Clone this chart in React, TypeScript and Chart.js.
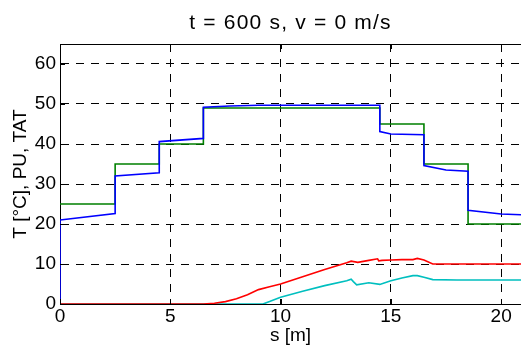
import React, { useEffect, useRef } from "react";
import { Chart, registerables } from "chart.js";

Chart.register(...registerables);

const TITLE = "t = 600 s, v = 0 m/s";
const X_LABEL = "s [m]";
const Y_LABEL = "T [°C], PU, TAT";
const X_TICKS = [0, 5, 10, 15, 20];
const Y_TICKS = [0, 10, 20, 30, 40, 50, 60];

// T (blue)
const tX = [0, 0, 2.5, 2.5, 4.5, 4.5, 6.5, 6.5, 7.7, 9, 14.5, 14.5, 15, 16.5, 16.5, 17.5, 18.5, 18.5, 20, 21];
const tY = [0, 21, 22.6, 32, 32.8, 40.6, 41.4, 49.2, 49.5, 49.7, 49.7, 43.1, 42.5, 42.3, 34.6, 33.5, 33.2, 23.4, 22.5, 22.3];

// TAT (green)
const tatX = [0, 2.5, 2.5, 4.5, 4.5, 6.5, 6.5, 14.5, 14.5, 16.5, 16.5, 18.5, 18.5, 21];
const tatY = [25, 25, 35, 35, 40, 40, 49, 49, 45, 45, 35, 35, 20, 20];

// PU (red)
const puX = [0, 6.5, 7, 7.5, 8, 8.5, 9, 9.5, 10, 11, 12, 13, 13.2, 13.5, 14, 14.4, 14.45, 14.6, 15, 15.5, 16, 16.2, 16.5, 16.9, 18, 21];
const puY = [0, 0, 0.2, 0.6, 1.3, 2.3, 3.6, 4.3, 5, 6.8, 8.6, 10.3, 10.7, 10.4, 10.9, 11.3, 10.8, 10.9, 11, 11.1, 11.1, 11.4, 11, 10, 10, 10];

// second index (cyan)
const cX = [0, 9.2, 9.5, 10, 11, 12, 13, 13.2, 13.3, 13.45, 14, 14.5, 15, 15.5, 16, 16.2, 16.5, 16.9, 18, 21];
const cY = [0, 0, 0.6, 1.7, 3.2, 4.6, 5.8, 6.2, 5.6, 4.8, 5.3, 4.9, 5.8, 6.5, 7.1, 7.1, 6.7, 6.1, 6, 6];

const FONT = "'Liberation Sans', Arial, sans-serif";

const pts = (xs: number[], ys: number[]) => xs.map((x, i) => ({ x, y: ys[i] }));

const framePlugin = {
  id: "frame",
  afterDraw(chart: any) {
    const { ctx, chartArea: a, scales } = chart;
    ctx.save();
    ctx.strokeStyle = "#000";
    ctx.lineWidth = 1;
    ctx.beginPath();
    ctx.moveTo(a.left, a.top + 0.5);
    ctx.lineTo(a.right, a.top + 0.5);
    const tl = 5;
    X_TICKS.forEach((v) => {
      const px = Math.round(scales.x.getPixelForValue(v)) + 0.5;
      ctx.moveTo(px, a.top);
      ctx.lineTo(px, a.top + tl);
      ctx.moveTo(px, a.bottom);
      ctx.lineTo(px, a.bottom - tl);
    });
    Y_TICKS.forEach((v) => {
      const py = Math.round(scales.y.getPixelForValue(v)) + 0.5;
      ctx.moveTo(a.left, py);
      ctx.lineTo(a.left + tl, py);
    });
    ctx.stroke();
    // title
    ctx.fillStyle = "#000";
    ctx.font = `21px ${FONT}`;
    (ctx as any).letterSpacing = "1.2px";
    ctx.textAlign = "center";
    ctx.textBaseline = "middle";
    ctx.fillText(TITLE, (a.left + a.right) / 2, 23);
    ctx.restore();
  },
};

export default function App() {
  const ref = useRef<HTMLCanvasElement>(null);
  useEffect(() => {
    if (!ref.current) return;
    const tickFont = { family: FONT, size: 19 };
    const chart = new Chart(ref.current, {
      type: "line",
      data: {
        datasets: [
          { label: "T", data: pts(tX, tY), borderColor: "#0000ff" },
          { label: "TAT", data: pts(tatX, tatY), borderColor: "#008000" },
          { label: "PU", data: pts(puX, puY), borderColor: "#ff0000" },
          { label: "c", data: pts(cX, cY), borderColor: "#00bfbf" },
        ],
      },
      options: {
        animation: false,
        responsive: false,
        layout: { padding: { top: 44, left: 0, right: 0, bottom: 0 } },
        elements: { point: { radius: 0 }, line: { tension: 0, borderWidth: 1.6, fill: false } },
        plugins: {
          legend: { display: false },
          tooltip: { enabled: false },
          title: { display: false },
        },
        scales: {
          x: {
            type: "linear",
            min: 0,
            max: 20.9,
            afterBuildTicks: (s: any) => {
              s.ticks = X_TICKS.map((v) => ({ value: v }));
            },
            afterFit: (s: any) => {
              s.height = 45;
            },
            ticks: { color: "#000", font: tickFont, padding: 1, maxRotation: 0, autoSkip: false },
            grid: { color: "#000", lineWidth: 1, drawTicks: false, tickLength: 0 },
            border: { color: "#000", width: 1, dash: [8, 7] },
            title: {
              display: true,
              text: X_LABEL,
              color: "#000",
              font: { family: FONT, size: 19 },
              padding: { top: 0, bottom: 2 },
            },
          },
          y: {
            type: "linear",
            min: 0,
            max: 65,
            afterBuildTicks: (s: any) => {
              s.ticks = Y_TICKS.map((v) => ({ value: v }));
            },
            afterFit: (s: any) => {
              s.width = 60;
            },
            ticks: { color: "#000", font: tickFont, padding: 4, autoSkip: false },
            grid: { color: "#000", lineWidth: 1, drawTicks: false, tickLength: 0 },
            border: { color: "#000", width: 1, dash: [8, 7] },
            title: {
              display: true,
              text: Y_LABEL,
              color: "#000",
              font: { family: FONT, size: 19 },
              padding: { top: 9, bottom: 0 },
            },
          },
        },
      },
      plugins: [framePlugin],
    });
    return () => chart.destroy();
  }, []);
  return (
    <div style={{ position: "absolute", left: 0, top: 0, width: 521, height: 349, background: "#fff" }}>
      <canvas ref={ref} width={521} height={349} style={{ width: 521, height: 349, display: "block" }} />
    </div>
  );
}
